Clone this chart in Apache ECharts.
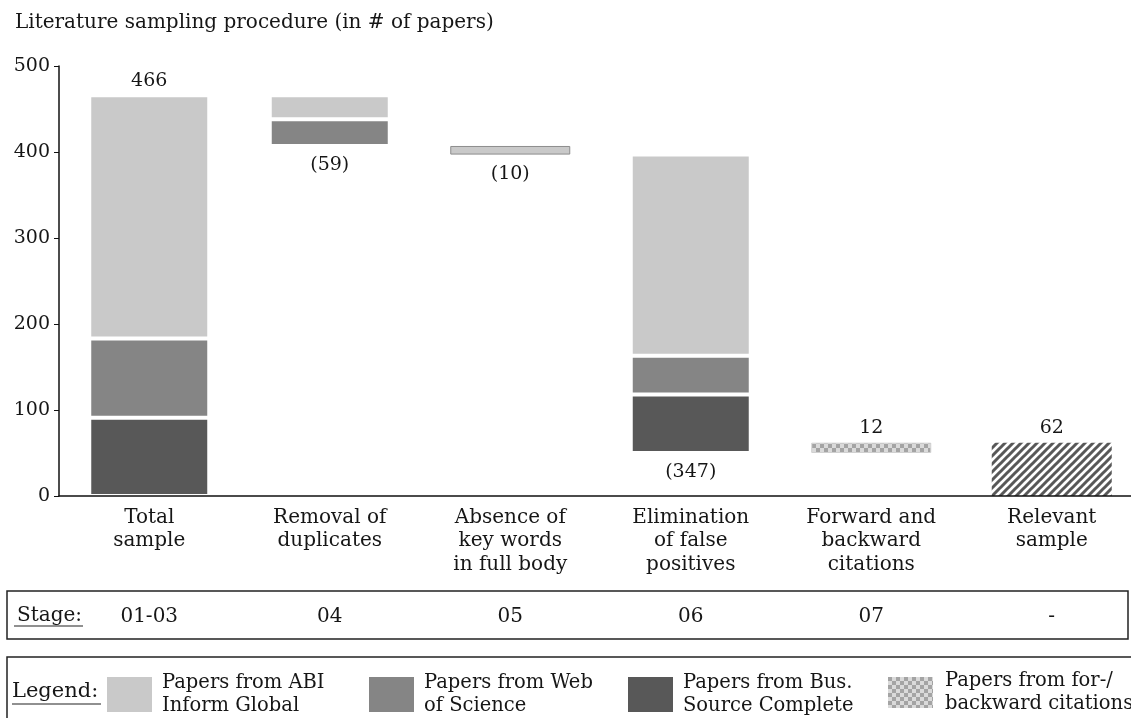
<!DOCTYPE html>
<html>
<head>
<meta charset="utf-8">
<script src="https://cdn.jsdelivr.net/npm/echarts@6/dist/echarts.min.js"></script>
<style>html,body{margin:0;padding:0;background:#fff;}#c{width:1131px;height:718px;}</style>
</head>
<body>
<div id="c"></div>
<script>
// ---- data ----
const categories = ['Total\nsample','Removal of\nduplicates','Absence of\nkey words\nin full body','Elimination\nof false\npositives','Forward and\nbackward\ncitations','Relevant\nsample'];
const stages = ['01-03','04','05','06','07','-'];
const stepType = ['total','step','step','step','step','total'];
const change = [466, -59, -10, -347, 12, 62];
const busComplete = [91, '-', '-', 68, '-', '-'];
const webOfScience = [92, 31, '-', 45, '-', '-'];
const abiInform = [283, 28, 10, 234, '-', '-'];
const forBackward = ['-', '-', '-', '-', 12, '-'];
const relevantSample = ['-', '-', '-', '-', '-', 62];
const seriesNames = ['Papers from ABI\nInform Global','Papers from Web\nof Science','Papers from Bus.\nSource Complete','Papers from for-/\nbackward citations'];
const yTicks = {min: 0, max: 500, interval: 100};

// ---- derived waterfall offsets ----
const base = [];
let running = 0;
change.forEach((c, i) => {
  if (stepType[i] === 'total') { base.push('-'); running = c; }
  else if (c < 0) { running = running + c; base.push(running); }
  else { base.push(running); running = running + c; }
});
const topMarker = change.map(c => c > 0 ? 0 : '-');

// ---- patterns ----
function checker() {
  const cv = document.createElement('canvas'); cv.width = 8; cv.height = 8;
  const g = cv.getContext('2d');
  g.fillStyle = '#dadada'; g.fillRect(0,0,8,8);
  g.fillStyle = '#a4a4a4'; g.fillRect(0,0,4,4); g.fillRect(4,4,4,4);
  return {image: cv, repeat: 'repeat'};
}
function hatch() {
  const cv = document.createElement('canvas'); cv.width = 8; cv.height = 8;
  const g = cv.getContext('2d');
  g.fillStyle = '#ffffff'; g.fillRect(0,0,8,8);
  g.strokeStyle = '#585858'; g.lineWidth = 3;
  g.beginPath();
  g.moveTo(-2,10); g.lineTo(10,-2);
  g.moveTo(-2,2); g.lineTo(2,-2);
  g.moveTo(6,10); g.lineTo(10,6);
  g.stroke();
  return {image: cv, repeat: 'repeat'};
}

const FONT = 'DejaVu Serif';
const TXT = '#161616';
const BW = 120;
const chart = echarts.init(document.getElementById('c'), null, {renderer: 'canvas'});

const legendCommon = {
  orient: 'horizontal', icon: 'rect', itemWidth: 45, itemHeight: 35, padding: 0,
  itemStyle: {borderWidth: 0},
  textStyle: {fontFamily: FONT, fontSize: 19.5, lineHeight: 23, color: TXT, padding: [5,0,0,5]},
  selectedMode: false
};

// thin step (absence of key words) keeps an outline instead of the white gap
const abiData = abiInform.map((v, i) => (v !== '-' && v < 15) ? {value: v, itemStyle: {borderColor: '#8c8c8c', borderWidth: 1}} : v);

chart.setOption({
  animation: false,
  backgroundColor: '#fff',
  title: {
    text: 'Literature sampling procedure (in # of papers)',
    left: 10, top: 8,
    textStyle: {fontFamily: FONT, fontSize: 20, fontWeight: 'normal', color: TXT}
  },
  grid: {left: 59, right: -11, top: 66, bottom: 222, containLabel: false, outerBoundsMode: 'none'},
  xAxis: [{
    type: 'category', data: categories, z: 10,
    axisLine: {lineStyle: {color: '#111', width: 1.5}},
    axisTick: {show: false},
    axisLabel: {interval: 0, fontFamily: FONT, fontSize: 20, lineHeight: 23.5, color: TXT, margin: 10}
  }, {
    type: 'category', data: stages, position: 'bottom', offset: 111,
    axisLine: {show: false}, axisTick: {show: false},
    axisLabel: {interval: 0, fontFamily: FONT, fontSize: 20, color: TXT, margin: 0}
  }],
  yAxis: {
    type: 'value', min: yTicks.min, max: yTicks.max, interval: yTicks.interval,
    axisLine: {show: true, lineStyle: {color: '#111', width: 1.5}},
    axisTick: {show: true, length: 5, lineStyle: {color: '#111'}},
    splitLine: {show: false},
    axisLabel: {fontFamily: FONT, fontSize: 19, color: TXT, margin: 9}
  },
  legend: [
    Object.assign({}, legendCommon, {data: [seriesNames[0]], left: 107, top: 669}),
    Object.assign({}, legendCommon, {data: [seriesNames[1]], left: 369, top: 669}),
    Object.assign({}, legendCommon, {data: [seriesNames[2]], left: 628, top: 669}),
    Object.assign({}, legendCommon, {data: [seriesNames[3]], left: 888, top: 667, itemHeight: 31, textStyle: Object.assign({}, legendCommon.textStyle, {padding: [5,0,0,7]})})
  ],
  series: [
    {
      name: 'base', type: 'bar', stack: 'w', barWidth: BW, data: base,
      itemStyle: {color: 'rgba(0,0,0,0)'}, silent: true,
      label: {show: true, position: 'insideTop', distance: 10, fontFamily: FONT, fontSize: 19, color: TXT,
        formatter: p => change[p.dataIndex] < 0 ? '(' + (-change[p.dataIndex]) + ')' : ''}
    },
    {name: seriesNames[2], type: 'bar', stack: 'w', barWidth: BW, data: busComplete,
      itemStyle: {color: '#585858', borderColor: '#fff', borderWidth: 2}},
    {name: seriesNames[1], type: 'bar', stack: 'w', barWidth: BW, data: webOfScience,
      itemStyle: {color: '#858585', borderColor: '#fff', borderWidth: 2}},
    {name: seriesNames[0], type: 'bar', stack: 'w', barWidth: BW, data: abiData,
      itemStyle: {color: '#c9c9c9', borderColor: '#fff', borderWidth: 2}},
    {name: seriesNames[3], type: 'bar', stack: 'w', barWidth: BW, data: forBackward,
      itemStyle: {color: checker(), borderColor: '#d0d0d0', borderWidth: 1}},
    {name: 'Relevant sample', type: 'bar', stack: 'w', barWidth: BW, data: relevantSample,
      itemStyle: {color: hatch()}},
    {
      name: 'labels', type: 'bar', stack: 'w', barWidth: BW, data: topMarker, silent: true,
      itemStyle: {color: 'rgba(0,0,0,0)'},
      label: {show: true, position: 'top', distance: 5, fontFamily: FONT, fontSize: 19, color: TXT,
        formatter: p => String(change[p.dataIndex])}
    }
  ],
  graphic: [
    {type: 'rect', shape: {x: 7, y: 591, width: 1121, height: 48}, style: {fill: 'none', stroke: '#222', lineWidth: 1.5}},
    {type: 'text', x: 17, y: 616, style: {text: 'Stage:', fontFamily: FONT, fontSize: 20, fill: TXT, textVerticalAlign: 'middle'}},
    {type: 'line', shape: {x1: 14, y1: 626, x2: 83, y2: 626}, style: {stroke: '#222', lineWidth: 1.2}},
    {type: 'rect', shape: {x: 7, y: 657, width: 1200, height: 100}, style: {fill: 'none', stroke: '#222', lineWidth: 1.5}},
    {type: 'text', x: 12, y: 692, style: {text: 'Legend:', fontFamily: FONT, fontSize: 21, fill: TXT, textVerticalAlign: 'middle'}},
    {type: 'line', shape: {x1: 12, y1: 704, x2: 101, y2: 704}, style: {stroke: '#222', lineWidth: 1.2}}
  ]
});
</script>
</body>
</html>
